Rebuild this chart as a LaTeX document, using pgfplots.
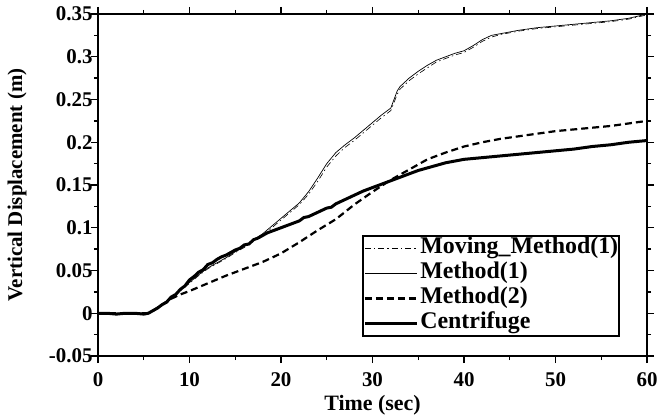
\documentclass[border=0pt]{standalone}
\usepackage{pgfplots}
\pgfplotsset{compat=1.18}
\usepackage{pgfplotstable}
\usepackage{fontspec}
\setmainfont{Liberation Serif}

% Vertical displacement histories (time in s, displacement in m)
\pgfplotstableread{
t v
0 0
1 0.000
2 -0.001
3 0.000
4 0.000
5 -0.001
5.5 0.000
6 0.003
6.5 0.006
7 0.010
7.5 0.013
8 0.019
8.5 0.022
9 0.028
9.5 0.032
10 0.039
10.5 0.043
11 0.048
11.5 0.051
12 0.057
12.5 0.059
13 0.063
13.5 0.066
14 0.068
14.5 0.071
15 0.074
15.5 0.076
16 0.080
16.5 0.081
17 0.086
17.5 0.088
18 0.091
18.5 0.094
19 0.096
19.5 0.098
20 0.100
21 0.104
22 0.108
22.5 0.112
23 0.113
24 0.118
25 0.123
25.5 0.124
26 0.128
27 0.133
28 0.138
29 0.143
30 0.147
31 0.151
32 0.155
33 0.159
34 0.163
35 0.167
36 0.170
37 0.173
38 0.176
39 0.178
40 0.180
42 0.182
44 0.184
46 0.186
48 0.188
50 0.190
52 0.192
54 0.195
56 0.197
58 0.200
60 0.202
}\centrifuge

\pgfplotstableread{
t v
0 0
5.5 0
6 0.003
7 0.010
8 0.017
9 0.022
10 0.026
12 0.035
14 0.044
16 0.052
18 0.060
20 0.070
22 0.083
24 0.097
26 0.110
28 0.127
30 0.142
32 0.156
34 0.168
36 0.180
38 0.188
40 0.195
42 0.200
44 0.204
46 0.207
48 0.210
50 0.213
52 0.215
54 0.217
56 0.219
58 0.222
60 0.225
}\methodtwo

\pgfplotstableread{
t v
0 0
5.5 0
6 0.003
7 0.010
8 0.018
9 0.027
10 0.036
11 0.045
12 0.053
13 0.059
14 0.065
15 0.072
16 0.078
17 0.086
18 0.093
19 0.102
20 0.111
21 0.120
22 0.129
23 0.142
24 0.158
25 0.175
26 0.188
27 0.197
28 0.205
29 0.214
30 0.223
31 0.232
32 0.240
32.7 0.260
33 0.265
34 0.275
35 0.283
36 0.290
37 0.296
38 0.300
39 0.304
40 0.307
41 0.313
42 0.320
43 0.325
44 0.327
46 0.331
48 0.334
50 0.336
52 0.338
54 0.340
56 0.342
58 0.345
60 0.350
}\methodone

\pgfplotstableread{
t v
0 0
5.5 0
6 0.003
7 0.010
8 0.017
9 0.026
10 0.035
11 0.044
12 0.052
13 0.058
14 0.064
15 0.071
16 0.077
17 0.085
18 0.091
19 0.100
20 0.109
21 0.118
22 0.127
23 0.139
24 0.154
25 0.171
26 0.184
27 0.194
28 0.202
29 0.211
30 0.220
31 0.229
32 0.237
32.7 0.256
33 0.262
34 0.272
35 0.280
36 0.287
37 0.294
38 0.298
39 0.302
40 0.305
41 0.311
42 0.318
43 0.323
44 0.326
46 0.330
48 0.333
50 0.335
52 0.337
54 0.339
56 0.341
58 0.344
60 0.349
}\movingone

\begin{document}
\begin{tikzpicture}
\begin{axis}[
  scale only axis,
  width=549bp, height=342bp,
  xmin=0, xmax=60, ymin=-0.05, ymax=0.35,
  xtick={0,10,...,60},
  ytick={-0.05,0,0.05,0.1,0.15,0.2,0.25,0.3,0.35},
  minor x tick num=1, minor y tick num=1,
  tick align=outside,
  major tick length=7bp, minor tick length=4bp,
  axis line style={line width=1.8bp},
  every tick/.style={black, line width=1.4bp},
  /pgf/number format/assume math mode=true,
  yticklabel style={/pgf/number format/fixed, /pgf/number format/precision=2, xshift=5bp},
  tick label style={font=\fontsize{21}{22}\selectfont\bfseries},
  xticklabel style={yshift=-6bp},
  xlabel={Time (sec)},
  ylabel={Vertical Displacement (m)},
  xlabel style={font=\fontsize{22}{24}\selectfont\bfseries,
    at={(axis description cs:0.5,-0.1608)}, anchor=base},
  ylabel style={font=\fontsize{21}{22}\selectfont\bfseries,
    at={(axis description cs:-0.1475,0.5)}, anchor=center},
  legend cell align=left,
  legend style={at={(0.951,0.056)}, anchor=south east,
    font=\fontsize{24}{24}\selectfont\bfseries,
    draw=black, line width=1.8bp, inner sep=0bp, row sep=0bp,
    column sep=1bp,
    nodes={inner sep=1bp, text height=17bp, text depth=6bp}},
  legend image code/.code={\draw[#1] (-1bp,0bp) -- (51bp,0bp);},
  clip=false,
]
\addplot[black, line width=0.6bp, dash pattern=on 6bp off 3bp on 1.5bp off 3bp] table[x=t,y=v] {\movingone};
\addlegendentry{Moving\_Method(1)}
\addplot[black, line width=0.7bp] table[x=t,y=v] {\methodone};
\addlegendentry{Method(1)}
\addplot[black, line width=2.2bp, dash pattern=on 7bp off 4bp] table[x=t,y=v] {\methodtwo};
\addlegendentry{Method(2)}
\addplot[black, line width=3bp] table[x=t,y=v] {\centrifuge};
\addlegendentry{Centrifuge}
\coordinate (bl) at (rel axis cs:0,0);
\coordinate (tr) at (rel axis cs:1,1);
\end{axis}
\pgfresetboundingbox
\path ([shift={(-98bp,-62bp)}]bl) rectangle ([shift={(12bp,14bp)}]tr);
\end{tikzpicture}
\end{document}
